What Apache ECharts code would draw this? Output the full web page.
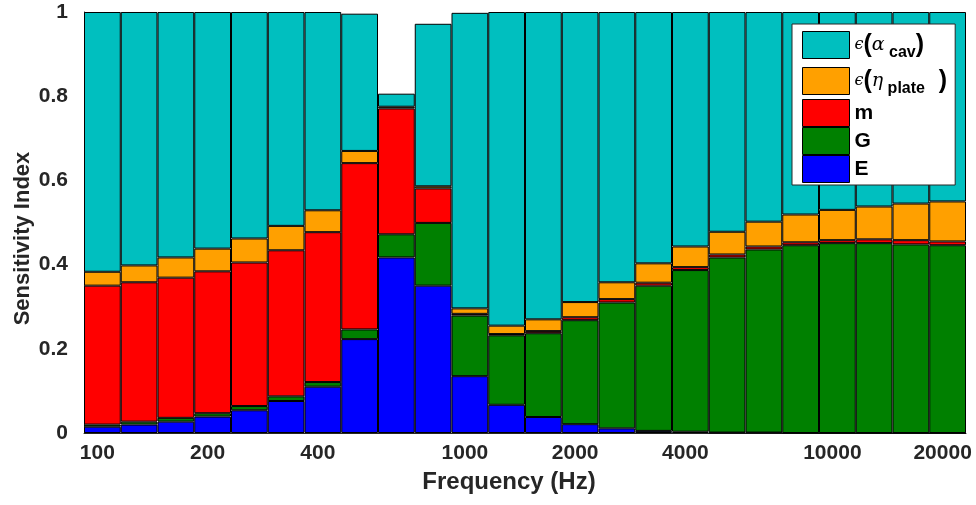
<!DOCTYPE html>
<html>
<head>
<meta charset="utf-8">
<script src="https://cdn.jsdelivr.net/npm/echarts@6/dist/echarts.min.js"></script>
<style>html,body{margin:0;padding:0;background:#fff}#c{width:976px;height:505px}</style>
</head>
<body>
<div id="c"></div>
<script>
// Frequencies (Hz), one bar each
var frequencies = ['100','125','160','200','250','315','400','500','630','800','1000','1250','1600','2000','2500','3150','4000','5000','6300','8000','10000','12500','16000','20000'];
// Tick labels shown on the x axis
var tickLabels = ['100','200','400','1000','2000','4000','10000','20000'];
var yTicks = [0, 0.2, 0.4, 0.6, 0.8, 1];

// Sensitivity index contributions (stacked bottom to top)
var E        = [0.015,0.020,0.027,0.039,0.054,0.076,0.110,0.223,0.417,0.350,0.135,0.067,0.038,0.021,0.011,0.005,0.003,0.001,0.001,0,0,0,0,0];
var G        = [0.005,0.007,0.009,0.008,0.010,0.011,0.011,0.023,0.055,0.149,0.144,0.165,0.199,0.247,0.299,0.345,0.384,0.416,0.435,0.446,0.451,0.451,0.448,0.446];
var m        = [0.330,0.331,0.333,0.337,0.341,0.347,0.356,0.395,0.299,0.082,0.004,0.003,0.005,0.007,0.008,0.007,0.007,0.007,0.007,0.007,0.007,0.009,0.010,0.009];
var etaPlate = [0.033,0.040,0.048,0.054,0.057,0.058,0.052,0.029,0.004,0.005,0.013,0.020,0.028,0.036,0.040,0.046,0.049,0.054,0.059,0.066,0.072,0.078,0.087,0.095];
var alphaCav = [0.617,0.602,0.583,0.562,0.538,0.508,0.471,0.326,0.031,0.386,0.702,0.745,0.730,0.689,0.642,0.597,0.557,0.522,0.498,0.481,0.470,0.462,0.455,0.450];

var legendText = {
  alphaCav: '{e|ϵ}{p|(}{g|α}{s| cav}{p|)}',
  etaPlate: '{e|ϵ}{p|(}{g|η}{s| plate}{p|  )}',
  m: '{t|m}', G: '{t|G}', E: '{t|E}'
};

var chart = echarts.init(document.getElementById('c'), null, {renderer:'canvas'});
var txt = '#262626';
var font = 'Liberation Sans';
function bar(name, data, color) {
  return {
    name: name, type: 'bar', stack: 'total', data: data,
    barCategoryGap: '0%',
    itemStyle: {color: color, borderColor: '#000', borderWidth: 1},
    emphasis: {disabled: true}
  };
}
chart.setOption({
  animation: false,
  backgroundColor: '#fff',
  grid: {left: 84, right: 10, top: 12, bottom: 72, containLabel: false},
  xAxis: {
    type: 'category', data: frequencies,
    name: 'Frequency (Hz)', nameLocation: 'middle', nameGap: 37, nameMoveOverlap: false,
    nameTextStyle: {fontFamily: font, fontWeight: 'bold', fontSize: 24, color: txt, padding: [0, 32, 0, 0]},
    axisLine: {show: true, lineStyle: {color: txt, width: 1}},
    axisTick: {show: false},
    axisLabel: {
      interval: function (i, v) { return tickLabels.indexOf(v) >= 0; },
      margin: 10, fontFamily: font, fontWeight: 'bold', fontSize: 21, color: txt,
      padding: [0, 10, 0, 0]
    },
    splitLine: {show: false}
  },
  yAxis: {
    type: 'value', min: 0, max: 1, interval: 0.2,
    name: 'Sensitivity Index', nameLocation: 'middle', nameGap: 50, nameMoveOverlap: false,
    nameTextStyle: {fontFamily: font, fontWeight: 'bold', fontSize: 22, color: txt, padding: [0, 32, 0, 0]},
    axisLine: {show: true, lineStyle: {color: txt, width: 1}},
    axisTick: {show: true, inside: true, length: 8, lineStyle: {color: txt}},
    axisLabel: {margin: 16, fontFamily: font, fontWeight: 'bold', fontSize: 21, color: txt,
      formatter: function (v) { return yTicks.indexOf(Math.round(v*10)/10) >= 0 ? String(Math.round(v*10)/10) : ''; }},
    splitLine: {show: false}
  },
  legend: {
    orient: 'vertical', left: 792, top: 24,
    data: ['alphaCav', 'etaPlate', 'm', 'G', 'E'],
    icon: 'rect', itemWidth: 47, itemHeight: 27, itemGap: 0,
    padding: [3, 8, 2, 10],
    backgroundColor: '#fff', borderColor: txt, borderWidth: 1,
    itemStyle: {borderColor: '#000', borderWidth: 1},
    selectedMode: false,
    formatter: function (n) { return legendText[n]; },
    textStyle: {
      color: '#000', fontFamily: font, fontWeight: 'bold', fontSize: 21,
      rich: {
        e: {fontFamily: 'DejaVu Serif', fontStyle: 'italic', fontWeight: 'normal', fontSize: 16, color: '#000', lineHeight: 36},
        p: {fontFamily: font, fontWeight: 'bold', fontSize: 25, color: '#000', lineHeight: 36},
        g: {fontFamily: 'DejaVu Serif', fontStyle: 'italic', fontWeight: 'normal', fontSize: 19, color: '#000', lineHeight: 36},
        s: {fontFamily: font, fontWeight: 'bold', fontSize: 16, color: '#000', lineHeight: 16, padding: [18, 0, 2, 0]},
        t: {fontFamily: font, fontWeight: 'bold', fontSize: 21, color: '#000', lineHeight: 27}
      }
    }
  },
  series: [
    bar('E', E, '#0000FF'),
    bar('G', G, '#008000'),
    bar('m', m, '#FF0000'),
    bar('etaPlate', etaPlate, '#FFA000'),
    bar('alphaCav', alphaCav, '#00BFBF')
  ]
});
</script>
</body>
</html>
